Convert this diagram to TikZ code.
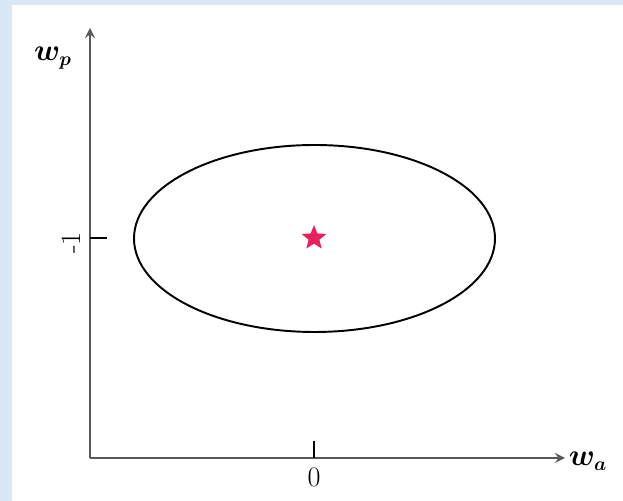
\documentclass[tikz,border=0pt]{standalone}
\usepackage{amsmath}
\usepackage{bm}
\usetikzlibrary{shapes.geometric}
\definecolor{paleblue}{RGB}{218,232,246}
\definecolor{starpink}{RGB}{232,32,92}
\tikzset{
  axis/.style={->, >=stealth, line width=1.5pt, black!65},
  tick/.style={line width=1.1pt, black},
  lbl/.style={font=\fontsize{16}{18}\selectfont}
}
\begin{document}
\begin{tikzpicture}
        \fill[paleblue] (0, 0) rectangle (12.46, 10.02);
        \fill[white] (0.24, 0) rectangle (12.46, 9.92);
        \coordinate (origin) at (1.8, 0.86);
        \coordinate (wptip) at (1.8, 9.46);
        \coordinate (watip) at (11.3, 0.86);
        \draw[axis] (origin) -- (wptip);
        \draw[axis] (origin) -- (watip);
        \node[lbl] (wp) at (1.06, 8.86) {$\bm{w}_{\bm{p}}$};
        \node[lbl] (wa) at (11.76, 0.8) {$\bm{w}_{\bm{a}}$};
        % ticks
        \coordinate (xtick) at (6.28, 0.86);
        \coordinate (ytick) at (1.8, 5.26);
        \draw[tick] (xtick) -- ++(0, 0.34);
        \draw[tick] (ytick) -- ++(0.34, 0);
        \node[lbl] (zero) at (6.28, 0.48) {0};
        \node[lbl, rotate=90] (minusone) at (1.42, 5.16) {-1};
        % contour and optimum
        \draw[line width=1.1pt] (6.29, 5.25) ellipse (3.61 and 1.87);
        \node[star, star points=5, star point ratio=2.3, fill=starpink,
        minimum size=0.52cm, inner sep=0pt] (opt) at (6.28, 5.26) {};
      \end{tikzpicture}
\end{document}
